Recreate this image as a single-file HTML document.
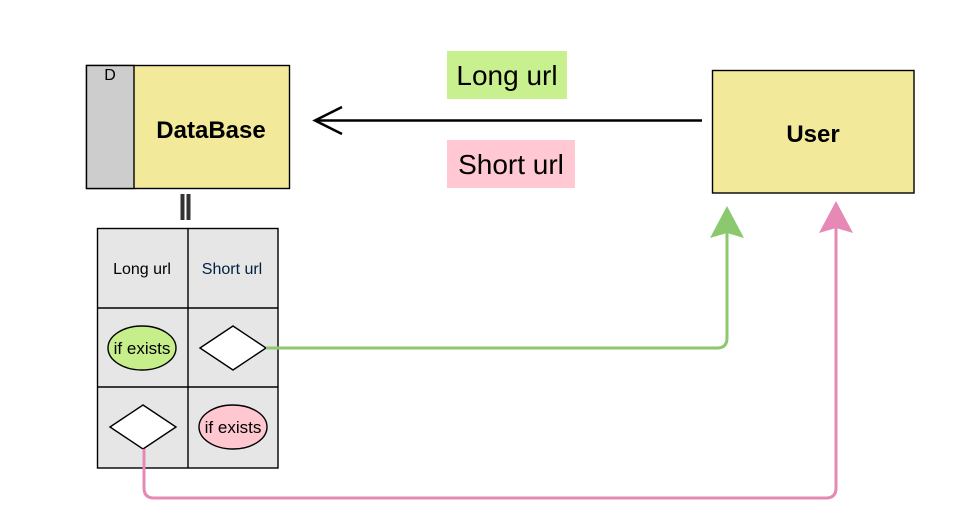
<!DOCTYPE html>
<html><head><meta charset="utf-8"><style>
html,body{margin:0;padding:0;background:#fff;}
svg{display:block;}
text{font-family:"Liberation Sans",Arial,sans-serif;}
</style></head><body>
<svg width="974" height="526" viewBox="0 0 974 526" xmlns="http://www.w3.org/2000/svg">
<rect x="0" y="0" width="974" height="526" fill="#fff"/>
<rect x="86.5" y="65.5" width="203" height="123" fill="#f3e99a" stroke="#000" stroke-width="1.4"/>
<rect x="86.5" y="65.5" width="47.5" height="123" fill="#cdcdcd" stroke="#000" stroke-width="1.4"/>
<text x="110" y="80" font-size="16" text-anchor="middle" fill="#000">D</text>
<text x="211" y="138" font-size="24" font-weight="bold" text-anchor="middle" fill="#000">DataBase</text>
<rect x="180.5" y="194" width="4" height="26" fill="#333"/>
<rect x="186.5" y="194" width="4" height="26" fill="#333"/>
<rect x="97.5" y="228.5" width="180.5" height="239.5" fill="#e6e6e6" stroke="#000" stroke-width="1.4"/>
<line x1="188" y1="228.5" x2="188" y2="468" stroke="#000" stroke-width="1.4"/>
<line x1="97.5" y1="308" x2="278" y2="308" stroke="#000" stroke-width="1.4"/>
<line x1="97.5" y1="387" x2="278" y2="387" stroke="#000" stroke-width="1.4"/>
<text x="142" y="274" font-size="16" text-anchor="middle" fill="#000">Long url</text>
<text x="232" y="274" font-size="16" text-anchor="middle" fill="#002040">Short url</text>
<ellipse cx="142" cy="348" rx="34" ry="22" fill="#c6ef8c" stroke="#000" stroke-width="1.4"/>
<text x="142" y="354" font-size="17" text-anchor="middle" fill="#000">if exists</text>
<polygon points="200,348 233,326 266,348 233,370" fill="#fff" stroke="#000" stroke-width="1.4"/>
<polygon points="110,427 143,405 176,427 143,449" fill="#fff" stroke="#000" stroke-width="1.4"/>
<ellipse cx="233" cy="427" rx="34" ry="22" fill="#ffc7d0" stroke="#000" stroke-width="1.4"/>
<text x="233" y="433" font-size="17" text-anchor="middle" fill="#000">if exists</text>
<path d="M266,348 H717 Q727,348 727,338 V225" fill="none" stroke="#8cc96e" stroke-width="3"/>
<polygon points="727,206 710,238 727,233 744,238" fill="#8cc96e"/>
<path d="M144,449 V488 Q144,498 154,498 H826 Q836,498 836,488 V222" fill="none" stroke="#e68ab5" stroke-width="3"/>
<polygon points="836,201 819,233 836,228 853,233" fill="#e68ab5"/>
<rect x="712.5" y="70.5" width="201.5" height="122.5" fill="#f3e99a" stroke="#000" stroke-width="1.4"/>
<text x="813" y="142" font-size="24" font-weight="bold" text-anchor="middle" fill="#000">User</text>
<line x1="315" y1="120.5" x2="702" y2="120.5" stroke="#000" stroke-width="2.5"/>
<polyline points="342,107 315,120.5 342,134" fill="none" stroke="#000" stroke-width="2.5"/>
<rect x="447" y="51" width="120" height="48" fill="#c9f08e"/>
<text x="507" y="85" font-size="28" text-anchor="middle" fill="#000">Long url</text>
<rect x="447" y="140" width="128" height="48" fill="#ffc8d2"/>
<text x="511" y="174" font-size="28" text-anchor="middle" fill="#000">Short url</text>
</svg>
</body></html>
